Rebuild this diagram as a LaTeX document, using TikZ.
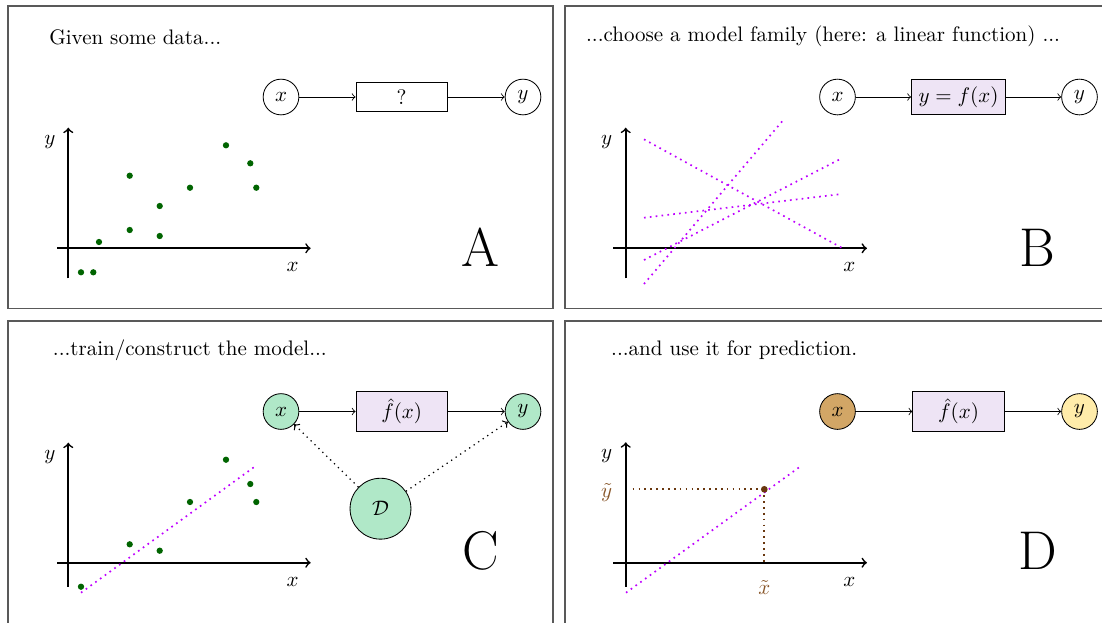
\documentclass[tikz,border=0pt]{standalone}
\usepackage{amsmath}
\definecolor{dotgreen}{RGB}{0,100,0}
\definecolor{fitviolet}{RGB}{190,0,255}
\definecolor{boxlav}{RGB}{238,228,245}
\definecolor{mintfill}{RGB}{176,232,200}
\definecolor{xtanfill}{RGB}{210,166,102}
\definecolor{ylightfill}{RGB}{255,236,170}
\definecolor{predbrown}{RGB}{105,55,15}
\definecolor{tildebrown}{RGB}{135,85,40}
\tikzset{
  panel/.style={draw=black!65, line width=0.6pt},
  titletext/.style={anchor=base west, inner sep=0pt},
  axisline/.style={thick, ->},
  lab/.style={inner sep=0pt},
  datadot/.style={circle, fill=dotgreen, inner sep=0pt, minimum size=3pt},
  fitline/.style={fitviolet, dotted, thick},
  io/.style={circle, draw, inner sep=0pt, minimum size=17pt},
  model/.style={rectangle, draw, minimum width=43.5pt, minimum height=14pt},
  flow/.style={->},
  bigletter/.style={anchor=base, inner sep=0pt, font=\fontsize{26}{30}\selectfont},
  trainarrow/.style={->, dotted, semithick},
  guide/.style={predbrown, dotted, thick}
}
\begin{document}
\begin{tikzpicture}[x=0.4762pt, y=-0.4762pt]
\useasboundingbox (0,0) rectangle (1102,622);
\clip (0,0) rectangle (1102,622);

% panels
\draw[panel] (8,6) rectangle (553,308.5);
\draw[panel] (565,6) rectangle (1120,308.5);
\draw[panel] (8,321) rectangle (553,640);
\draw[panel] (565,321) rectangle (1120,640);

% titles
\node[titletext] (tA) at (49,44) {Given some data...};
\node[titletext] (tB) at (585.7,41.7) {...choose a model family (here: a linear function) ...};
\node[titletext] (tC) at (52.5,355) {...train/construct the model...};
\node[titletext] (tD) at (610.8,355) {...and use it for prediction.};

% ---------------- Panel A ----------------
\coordinate (aXs) at (57.3,248.3);
\coordinate (aXe) at (310.7,248.3);
\coordinate (aYs) at (68.3,278.3);
\coordinate (aYe) at (68.3,127.7);
\draw[axisline] (aXs) -- (aXe);
\draw[axisline] (aYs) -- (aYe);
\node[lab] (aylab) at (50,141.7) {$y$};
\node[lab] (axlab) at (292.7,266.7) {$x$};
\foreach \p [count=\i] in {(81,272.3),(93.3,272.3),(99,242),(129.7,175.7),(129.7,230),(159.7,206),(159.7,236),(190,187.7),(226,145.3),(250.3,163.3),(256.3,187.7)}
  \node[datadot] (ad\i) at \p {};
\node[io] (ax) at (281,97) {$x$};
\node[model] (af) at (401.7,97) {?};
\node[io] (ay) at (523,97) {$y$};
\draw[flow] (ax) -- (af);
\draw[flow] (af) -- (ay);
\node[bigletter] (lA) at (480.8,266.7) {A};

% ---------------- Panel B ----------------
\coordinate (bXs) at (613.3,248.3);
\coordinate (bXe) at (867,248.3);
\coordinate (bYs) at (625.7,278.3);
\coordinate (bYe) at (625.7,127.7);
\draw[axisline] (bXs) -- (bXe);
\draw[axisline] (bYs) -- (bYe);
\node[lab] (bylab) at (606.7,141.7) {$y$};
\node[lab] (bxlab) at (849.3,266.7) {$x$};
\coordinate (b1s) at (644,139.3); \coordinate (b1e) at (842.7,248.3);
\coordinate (b2s) at (644,284);   \coordinate (b2e) at (782.7,120.7);
\coordinate (b3s) at (644,260);   \coordinate (b3e) at (841.7,158.3);
\coordinate (b4s) at (644,217.7); \coordinate (b4e) at (841.7,194);
\draw[fitline] (b1s) -- (b1e);
\draw[fitline] (b2s) -- (b2e);
\draw[fitline] (b3s) -- (b3e);
\draw[fitline] (b4s) -- (b4e);
\node[io] (bx) at (837.5,97) {$x$};
\node[model, fill=boxlav] (bf) at (958.5,97) {$y=f(x)$};
\node[io] (by) at (1079.5,97) {$y$};
\draw[flow] (bx) -- (bf);
\draw[flow] (bf) -- (by);
\node[bigletter] (lB) at (1037.5,266.7) {B};

% ---------------- Panel C ----------------
\coordinate (cXs) at (57.3,562.7);
\coordinate (cXe) at (310.7,562.7);
\coordinate (cYs) at (68.3,586.7);
\coordinate (cYe) at (68.3,442.7);
\draw[axisline] (cXs) -- (cXe);
\draw[axisline] (cYs) -- (cYe);
\node[lab] (cylab) at (50,456.7) {$y$};
\node[lab] (cxlab) at (292.7,581.7) {$x$};
\coordinate (cfs) at (81,592.7); \coordinate (cfe) at (256,465.7);
\draw[fitline] (cfs) -- (cfe);
\foreach \p [count=\i] in {(81,586.7),(129.7,544.3),(159.7,550.7),(190,502),(226,459.7),(250.3,484),(256.3,502)}
  \node[datadot] (cd\i) at \p {};
\node[io, fill=mintfill] (cx) at (281,411.5) {$x$};
\node[model, fill=boxlav] (cf) at (401.7,411.5) {$\hat{f}(x)$};
\node[io, fill=mintfill] (cy) at (523,411.5) {$y$};
\node[circle, draw, fill=mintfill, inner sep=0pt, minimum size=29pt] (cD) at (380.5,508.7) {$\mathcal{D}$};
\draw[flow] (cx) -- (cf);
\draw[flow] (cf) -- (cy);
\draw[trainarrow] (cD) -- (cx);
\draw[trainarrow] (cD) -- (cy);
\node[bigletter] (lC) at (480.8,569.3) {C};

% ---------------- Panel D ----------------
\coordinate (dXs) at (613.3,562.7);
\coordinate (dXe) at (867,562.7);
\coordinate (dYs) at (625.7,586.7);
\coordinate (dYe) at (625.7,442.3);
\draw[axisline] (dXs) -- (dXe);
\draw[axisline] (dYs) -- (dYe);
\node[lab] (dylab) at (606.7,456) {$y$};
\node[lab, text=tildebrown] (dytl) at (606.7,492.7) {$\tilde{y}$};
\node[lab] (dxlab) at (849.3,581.7) {$x$};
\node[lab, text=tildebrown] (dxtl) at (764.3,587.3) {$\tilde{x}$};
\coordinate (dfs) at (626,592.7); \coordinate (dfe) at (800,466.7);
\draw[fitline] (dfs) -- (dfe);
\coordinate (dhs) at (632.7,489.3);
\coordinate (dvb) at (764.3,562.7);
\node[circle, fill=predbrown, inner sep=0pt, minimum size=3.2pt] (dp) at (764.3,489.3) {};
\draw[guide] (dhs) -- (dp.center);
\draw[guide] (dp.center) -- (dvb);
\node[io, fill=xtanfill] (dx) at (837.5,411.5) {$x$};
\node[model, fill=boxlav] (df) at (958.5,411.5) {$\hat{f}(x)$};
\node[io, fill=ylightfill] (dy) at (1079.5,411.5) {$y$};
\draw[flow] (dx) -- (df);
\draw[flow] (df) -- (dy);
\node[bigletter] (lD) at (1037.5,569.3) {D};
\end{tikzpicture}
\end{document}
